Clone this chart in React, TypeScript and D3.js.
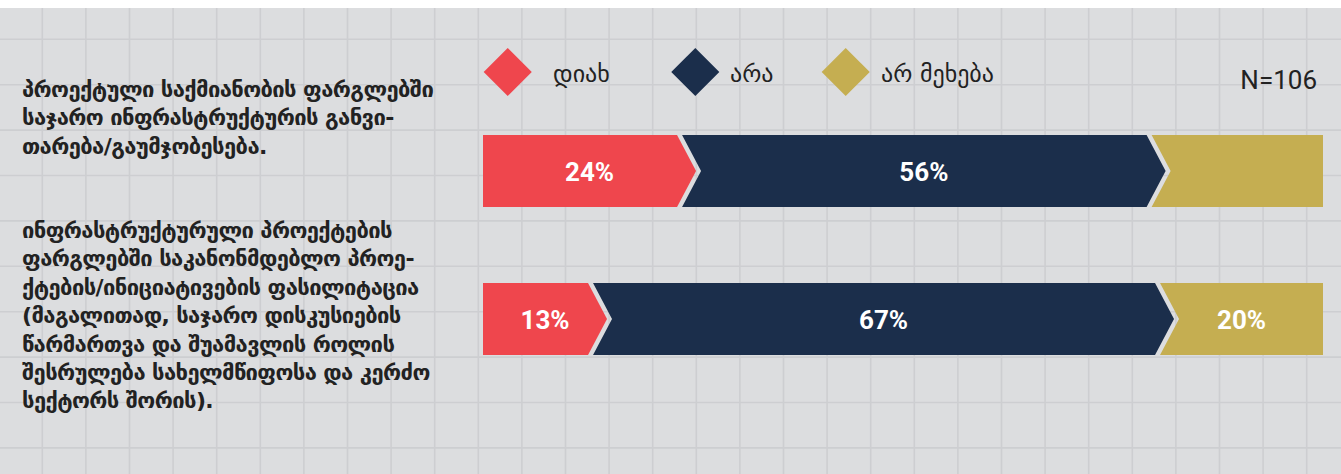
import React from 'react';
import * as d3 from 'd3';

// ---- data ----
const categories = ['infra-development', 'legislative-facilitation'];
const categoryLines = [
  [
    'პროექტული საქმიანობის ფარგლებში',
    'საჯარო ინფრასტრუქტურის განვი-',
    'თარება/გაუმჯობესება.',
  ],
  [
    'ინფრასტრუქტურული პროექტების',
    'ფარგლებში საკანონმდებლო პროე-',
    'ქტების/ინიციატივების ფასილიტაცია',
    '(მაგალითად, საჯარო დისკუსიების',
    'წარმართვა და შუამავლის როლის',
    'შესრულება სახელმწიფოსა და კერძო',
    'სექტორს შორის).',
  ],
];
const seriesKeys = ['yes', 'no', 'na'];
const seriesNames = ['დიახ', 'არა', 'არ მეხება'];
const yesValues = [23.4, 12.8];
const noValues = [55.9, 67.5];
const naValues = [20.7, 19.7];
const valueLabels = [
  ['24%', '56%', ''],
  ['13%', '67%', '20%'],
];
const sampleNote = 'N=106';

// ---- style ----
const colors = ['#ef464d', '#1b2e4b', '#c5ae51'];
const W = 1341;
const H = 474;
const BG = '#dcdddf';
const GRID = '#cdced1';
const TEXT = '#222222';
const GEO_FONT = '"DejaVu Sans", sans-serif';
const NUM_FONT = 'Roboto, "DejaVu Sans", sans-serif';

export default function App() {
  const table = categories.map((c, i) => ({
    cat: c,
    yes: yesValues[i],
    no: noValues[i],
    na: naValues[i],
  }));
  const stacked = d3.stack<any>().keys(seriesKeys)(table);

  const x = d3.scaleLinear().domain([0, 100]).range([483, 1323]);
  const y = d3.scalePoint<string>().domain(categories).range([171, 319]);
  const barH = 72;
  const gap = 2.5;
  const depth = 19;

  // grid
  const vLines = d3.range(0, 31).map((k) => 42.3 + 43.6 * k).filter((v) => v < W);
  const hLines = d3.range(0, 10).map((k) => 39.3 + 45.4 * k).filter((v) => v < H);

  const legendX = [507.7, 695.3, 845.7];
  const legendTextX = [553, 730, 881];
  const labelFirstBaseline = [97, 238];
  const lineH = 28.4;

  const segPath = (x0: number, x1: number, cy: number, first: boolean, last: boolean) => {
    const t = cy - barH / 2;
    const b = cy + barH / 2;
    const pts: [number, number][] = [];
    const lx = first ? x0 : x0 + gap;
    const rx = last ? x1 : x1 - gap;
    pts.push([lx, t]);
    pts.push([rx, t]);
    if (!last) pts.push([rx + depth, cy]);
    pts.push([rx, b]);
    pts.push([lx, b]);
    if (!first) pts.push([lx + depth, cy]);
    return d3.line()(pts) + 'Z';
  };

  return (
    <svg
      width={W}
      height={H}
      style={{ position: 'absolute', left: 0, top: 0, display: 'block' }}
    >
      <rect x={0} y={0} width={W} height={H} fill="#ffffff" />
      <rect x={0} y={8} width={W} height={H - 8} fill={BG} />
      <g stroke={GRID} strokeWidth={1.6}>
        {vLines.map((v, i) => (
          <line key={'v' + i} x1={v} x2={v} y1={8} y2={H} />
        ))}
        {hLines.map((v, i) => (
          <line key={'h' + i} x1={0} x2={W} y1={v} y2={v} />
        ))}
      </g>

      {/* category labels */}
      {categoryLines.map((lines, i) => (
        <text
          key={'cl' + i}
          fontFamily={GEO_FONT}
          fontWeight="bold"
          fontSize={22}
          letterSpacing={-0.6}
          fill={TEXT}
        >
          {lines.map((ln, j) => (
            <tspan key={j} x={22} y={labelFirstBaseline[i] + j * lineH}>
              {ln}
            </tspan>
          ))}
        </text>
      ))}

      {/* legend */}
      {seriesNames.map((n, i) => (
        <g key={'lg' + i}>
          <rect
            x={-17}
            y={-17}
            width={34}
            height={34}
            fill={colors[i]}
            transform={`translate(${legendX[i]},72) rotate(45)`}
          />
          <text
            x={legendTextX[i]}
            y={82}
            fontFamily={GEO_FONT}
            fontSize={24}
            fill={TEXT}
          >
            {n}
          </text>
        </g>
      ))}
      <text
        x={1317}
        y={89}
        textAnchor="end"
        fontFamily={NUM_FONT}
        fontSize={26}
        fill={TEXT}
      >
        {sampleNote}
      </text>

      {/* bars */}
      {stacked.map((layer, si) => (
        <g key={'s' + si} fill={colors[si]}>
          {layer.map((d, ci) => {
            const cat = categories[ci];
            const cy = y(cat) as number;
            const x0 = x(d[0]);
            const x1 = x(d[1]);
            const first = si === 0;
            const last = si === stacked.length - 1;
            const leftEdge = first ? x0 : x0 + gap;
            const rightEdge = last ? x1 : x1 - gap + depth;
            const label = valueLabels[ci][si];
            return (
              <g key={cat}>
                <path d={segPath(x0, x1, cy, first, last)} />
                {label && (
                  <text
                    x={(leftEdge + rightEdge) / 2}
                    y={cy + 9.5}
                    textAnchor="middle"
                    fontFamily={NUM_FONT}
                    fontWeight="bold"
                    fontSize={26}
                    fill="#ffffff"
                  >
                    {label}
                  </text>
                )}
              </g>
            );
          })}
        </g>
      ))}
    </svg>
  );
}
